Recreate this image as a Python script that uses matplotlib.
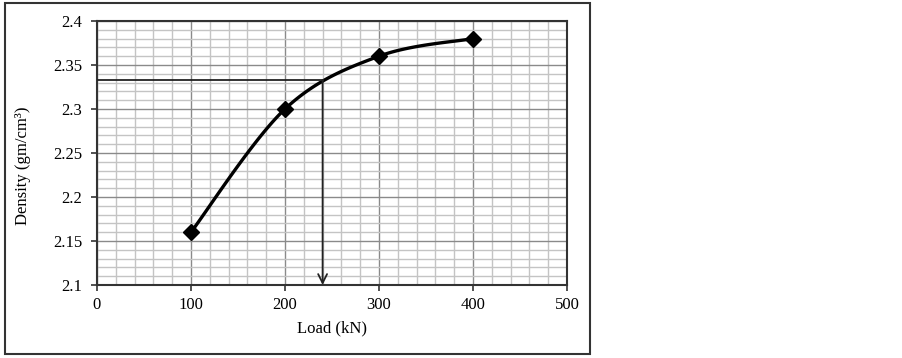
import matplotlib.pyplot as plt
import numpy as np
from matplotlib.patches import Rectangle

load = [100, 200, 300, 400]
density = [2.16, 2.30, 2.36, 2.38]
read_load = 240
read_density = 2.333
x_ticks = [0, 100, 200, 300, 400, 500]
y_ticks = [2.1, 2.15, 2.2, 2.25, 2.3, 2.35, 2.4]
y_labels = ['2.1', '2.15', '2.2', '2.25', '2.3', '2.35', '2.4']


def smooth(xs, ys, n=40):
    # excel-like smoothed line (catmull-rom bezier)
    xs, ys = np.asarray(xs, float), np.asarray(ys, float)
    px, py = [], []
    for i in range(len(xs) - 1):
        x0, y0 = (xs[i - 1], ys[i - 1]) if i > 0 else (xs[i], ys[i])
        x3, y3 = (xs[i + 2], ys[i + 2]) if i + 2 < len(xs) else (xs[i + 1], ys[i + 1])
        x1, y1, x2, y2 = xs[i], ys[i], xs[i + 1], ys[i + 1]
        c1x, c1y = x1 + (x2 - x0) / 6, y1 + (y2 - y0) / 6
        c2x, c2y = x2 - (x3 - x1) / 6, y2 - (y3 - y1) / 6
        t = np.linspace(0, 1, n)
        px.extend((1-t)**3*x1 + 3*(1-t)**2*t*c1x + 3*(1-t)*t**2*c2x + t**3*x2)
        py.extend((1-t)**3*y1 + 3*(1-t)**2*t*c1y + 3*(1-t)*t**2*c2y + t**3*y2)
    return px, py


plt.rcParams['font.family'] = ['Liberation Serif', 'DejaVu Serif']
fig = plt.figure(figsize=(9.03, 3.58), dpi=100)
ax = fig.add_axes([97/903, 1 - 285/358, 470/903, 264/358])

ax.set_xlim(0, 500)
ax.set_ylim(2.1, 2.4)
ax.set_xticks(x_ticks)
ax.set_yticks(y_ticks)
ax.set_yticklabels(y_labels)
ax.set_xticks(np.arange(0, 501, 20), minor=True)
ax.set_yticks(np.arange(2.1, 2.4001, 0.01), minor=True)
ax.grid(which='minor', color='#c4c4c4', linewidth=1.0)
ax.grid(which='major', color='#8a8a8a', linewidth=1.0)
ax.set_axisbelow(True)
ax.tick_params(which='minor', length=0)
ax.tick_params(which='major', length=4.5, width=1.2, labelsize=12, color='#333333')
ax.tick_params(axis='y', pad=6)
ax.tick_params(axis='x', pad=4)
for s in ax.spines.values():
    s.set_color('#333333')
    s.set_linewidth(1.5)

sx, sy = smooth(load, density)
ax.plot(sx, sy, color='black', linewidth=2.4, zorder=3)
ax.plot(load, density, linestyle='none', marker='D', markersize=8,
        color='black', zorder=4)

ax.plot([0, read_load], [read_density, read_density], color='#222222', linewidth=1.3, zorder=3)
ax.annotate('', xy=(read_load, 2.1), xytext=(read_load, read_density),
            arrowprops=dict(arrowstyle='->', color='#222222', lw=1.3,
                            mutation_scale=16, shrinkA=0, shrinkB=0), zorder=3)

fig.text(332/903, 1 - 328/358, 'Load (kN)', fontsize=12, ha='center', va='center')
fig.text(23/903, 1 - 166/358, 'Density (gm/cm³)', fontsize=12, rotation=90,
         ha='center', va='center')

fig.patches.append(Rectangle((5/903, 1 - 354/358), 585/903, 351/358, transform=fig.transFigure,
                             fill=False, edgecolor='#333333', linewidth=1.5))

fig.savefig('out.png', dpi=100)
